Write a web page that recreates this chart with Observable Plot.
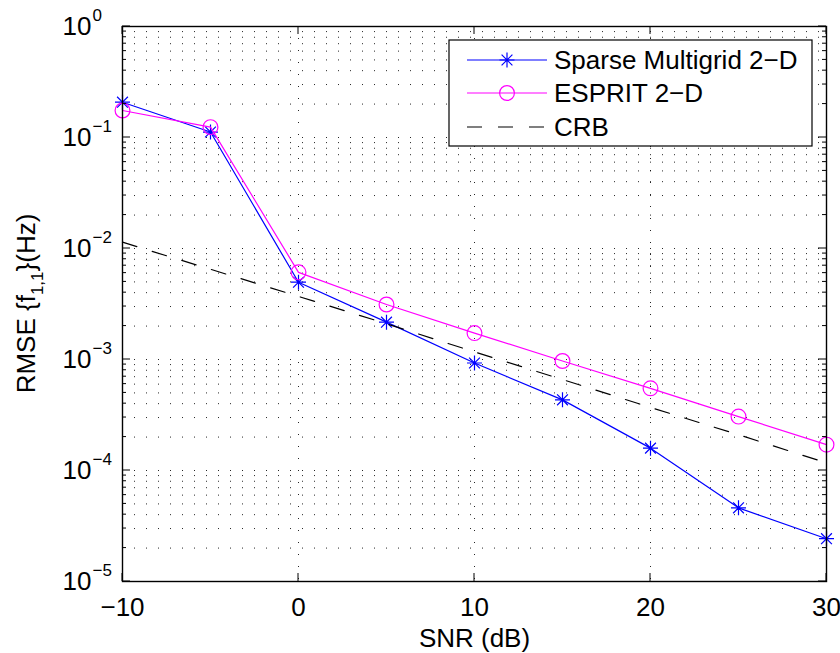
<!DOCTYPE html>
<html><head><meta charset="utf-8">
<script src="https://cdn.jsdelivr.net/npm/d3@7"></script>
<script src="https://cdn.jsdelivr.net/npm/@observablehq/plot@0.6"></script>
<style>html,body{margin:0;padding:0;background:#fff}</style>
</head><body><div id="chart"></div>
<script>
// ---- data ----
const snr = [-10, -5, 0, 5, 10, 15, 20, 25, 30];
const sparseRmse = [0.208, 0.112, 0.00497, 0.00217, 0.00093, 0.000433, 0.000159, 0.0000461, 0.0000243];
const espritRmse = [0.175, 0.124, 0.0061, 0.00313, 0.00173, 0.00097, 0.00055, 0.000306, 0.000171];
const crbRmse = [0.0114, 0.0065, 0.0037, 0.0021, 0.00117, 0.00066, 0.00037, 0.00021, 0.000117];
const xTicks = [-10, 0, 10, 20, 30];
const xGrid = [0, 10, 20];
const yExponents = [0, -1, -2, -3, -4, -5];
const seriesNames = ["Sparse Multigrid 2\u2212D", "ESPRIT 2\u2212D", "CRB"];
const xLabel = "SNR (dB)";

// ---- derived tables ----
const sparse = snr.map((x, i) => ({x, y: sparseRmse[i]}));
const esprit = snr.map((x, i) => ({x, y: espritRmse[i]}));
const crb = snr.map((x, i) => ({x, y: crbRmse[i]}));
const yMajor = yExponents.map(e => 10 ** e);
const yMinor = [];
for (let e = -5; e < 0; e++) for (let m = 2; m <= 9; m++) yMinor.push(m * 10 ** e);
const yGrid = yMinor.concat(yMajor.filter(v => v < 1 && v > 1e-5));

const FONT = "'Liberation Sans', Arial, Helvetica, sans-serif";
const BLUE = "#0000ff", MAGENTA = "#ff00ff";

// MATLAB-style 8-armed asterisk
const star8 = {
  draw(ctx, size) {
    const r = Math.sqrt(size / Math.PI);
    const d = r * 0.72;
    ctx.moveTo(-r, 0); ctx.lineTo(r, 0);
    ctx.moveTo(0, -r); ctx.lineTo(0, r);
    ctx.moveTo(-d, -d); ctx.lineTo(d, d);
    ctx.moveTo(-d, d); ctx.lineTo(d, -d);
  }
};

const fmtX = d => d < 0 ? "\u2212" + (-d) : String(d);

const chart = Plot.plot({
  width: 840,
  height: 653,
  marginLeft: 122,
  marginRight: 14,
  marginTop: 26,
  marginBottom: 72,
  style: {fontFamily: FONT, background: "#fff", overflow: "visible"},
  x: {domain: [-10, 30], axis: null},
  y: {type: "log", domain: [1e-5, 1], axis: null},
  marks: [
    Plot.ruleY(yGrid, {stroke: "#000", strokeWidth: 1, strokeDasharray: "1,11", strokeOpacity: 0.85}),
    Plot.ruleX(xGrid, {stroke: "#000", strokeWidth: 1, strokeDasharray: "1,11", strokeOpacity: 0.85}),
    Plot.line(sparse, {x: "x", y: "y", stroke: BLUE, strokeWidth: 1.2}),
    Plot.dot(sparse, {x: "x", y: "y", symbol: star8, r: 7.5, stroke: BLUE, fill: "none", strokeWidth: 1.2}),
    Plot.line(esprit, {x: "x", y: "y", stroke: MAGENTA, strokeWidth: 1.2}),
    Plot.dot(esprit, {x: "x", y: "y", r: 7.4, stroke: MAGENTA, fill: "none", strokeWidth: 1.2}),
    Plot.line(crb, {x: "x", y: "y", stroke: "#000", strokeWidth: 1.2, strokeDasharray: "15,16"}),
    Plot.frame({stroke: "#000", strokeWidth: 1.4}),
    // x tick labels
    Plot.text(xTicks, {x: d => d, frameAnchor: "bottom", lineAnchor: "top", dy: 16, text: fmtX, fontSize: 26, fill: "#000"}),
    // y tick labels: base "10" and superscript exponent
    Plot.text(yExponents, {y: d => 10 ** d, frameAnchor: "left", textAnchor: "start", dx: -60, text: () => "10", fontSize: 26, fill: "#000"}),
    Plot.text(yExponents, {y: d => 10 ** d, frameAnchor: "left", textAnchor: "start", dx: -30, dy: -11, text: d => d === 0 ? "0" : "\u2212" + (-d), fontSize: 17, fill: "#000"}),
    // x axis title
    Plot.text([xLabel], {frameAnchor: "bottom", lineAnchor: "top", dy: 47, text: d => d, fontSize: 26, fill: "#000"})
  ]
});

document.getElementById("chart").appendChild(chart);

// ---- ticks (inward, all four sides) using the plot's scales ----
const svg = d3.select(chart);
const xs = chart.scale("x"), ys = chart.scale("y");
const L = xs.apply(-10), R = xs.apply(30), T = ys.apply(1), B = ys.apply(1e-5);
const tg = svg.append("g").attr("stroke", "#000").attr("stroke-width", 1);
for (const v of xTicks) {
  const px = xs.apply(v);
  tg.append("line").attr("x1", px).attr("x2", px).attr("y1", B).attr("y2", B - 8);
  tg.append("line").attr("x1", px).attr("x2", px).attr("y1", T).attr("y2", T + 8);
}
for (const v of yMajor) {
  const py = ys.apply(v);
  tg.append("line").attr("x1", L).attr("x2", L + 8).attr("y1", py).attr("y2", py);
  tg.append("line").attr("x1", R).attr("x2", R - 8).attr("y1", py).attr("y2", py);
}
for (const v of yMinor) {
  const py = ys.apply(v);
  tg.append("line").attr("x1", L).attr("x2", L + 4).attr("y1", py).attr("y2", py);
  tg.append("line").attr("x1", R).attr("x2", R - 4).attr("y1", py).attr("y2", py);
}

// ---- y axis title with subscript ----
const yl = svg.append("text")
  .attr("transform", `translate(35,${(T + B) / 2}) rotate(-90)`)
  .attr("text-anchor", "middle")
  .attr("font-family", FONT)
  .attr("font-size", 26)
  .attr("fill", "#000");
yl.append("tspan").text("RMSE {f");
yl.append("tspan").attr("font-size", 17).attr("dy", 8).text("1,1");
yl.append("tspan").attr("dy", -8).text("}(Hz)");

// ---- legend ----
const lg = svg.append("g").attr("font-family", FONT).attr("text-anchor", "start");
lg.append("rect").attr("x", 449).attr("y", 40).attr("width", 363).attr("height", 106)
  .attr("fill", "#fff").attr("stroke", "#000").attr("stroke-width", 1.2);
const rows = [
  {name: seriesNames[0], color: BLUE, dash: null, symbol: star8, y: 60},
  {name: seriesNames[1], color: MAGENTA, dash: null, symbol: d3.symbolCircle, y: 93},
  {name: seriesNames[2], color: "#000", dash: "15,16", symbol: null, y: 127}
];
for (const r of rows) {
  lg.append("line").attr("x1", 467).attr("x2", 547).attr("y1", r.y).attr("y2", r.y)
    .attr("stroke", r.color).attr("stroke-width", 1.2).attr("stroke-dasharray", r.dash);
  if (r.symbol) {
    const rr = r.symbol === star8 ? 7.5 : 7.4;
    lg.append("path").attr("transform", `translate(507,${r.y})`)
      .attr("d", d3.symbol(r.symbol, Math.PI * rr * rr)())
      .attr("fill", "none").attr("stroke", r.color).attr("stroke-width", 1.2);
  }
  lg.append("text").attr("x", 554).attr("y", r.y).attr("dy", "0.35em")
    .attr("text-anchor", "start")
    .attr("font-size", 26).attr("fill", "#000").text(r.name);
}
</script>
</body></html>
